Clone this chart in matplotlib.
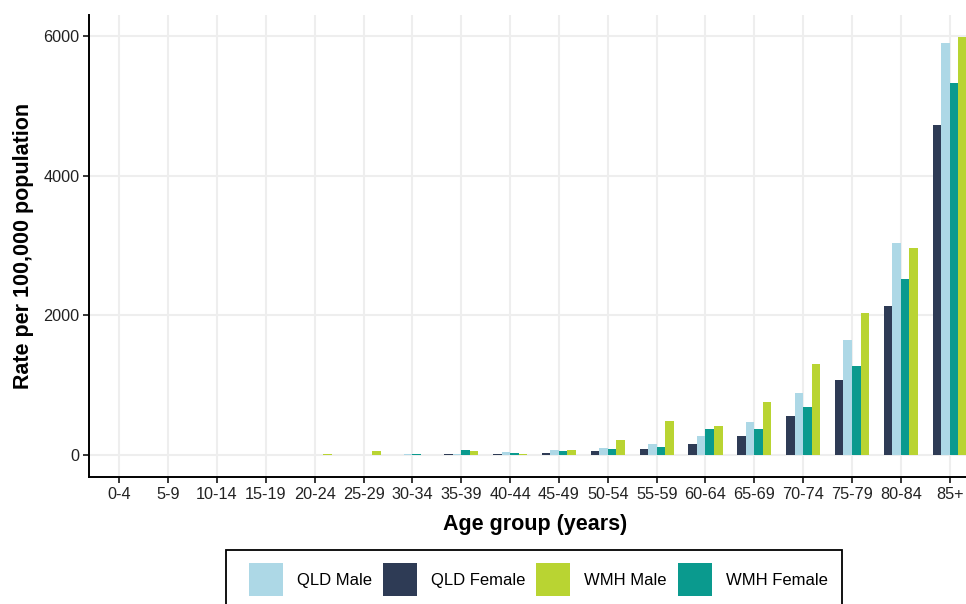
import numpy as np
import matplotlib
matplotlib.use("Agg")
import matplotlib.pyplot as plt
from matplotlib.patches import Rectangle

plt.rcParams['font.family'] = ['Liberation Sans', 'DejaVu Sans']

# Rate per 100,000 population by age group
age_groups = ["0-4", "5-9", "10-14", "15-19", "20-24", "25-29", "30-34", "35-39",
              "40-44", "45-49", "50-54", "55-59", "60-64", "65-69", "70-74",
              "75-79", "80-84", "85+"]
qld_male = [0, 0, 0, 0, 0, 5, 14, 19, 43, 81, 110, 167, 281, 482, 892, 1642, 3031, 5900]
qld_female = [0, 0, 0, 0, 0, 0, 5, 19, 14, 38, 62, 86, 167, 272, 563, 1074, 2129, 4726]
wmh_male = [0, 0, 0, 0, 20, 62, 10, 57, 19, 81, 224, 496, 420, 759, 1302, 2038, 2964, 5976]
wmh_female = [8, 0, 0, 0, 0, 0, 19, 76, 29, 62, 95, 124, 382, 377, 692, 1279, 2520, 5323]

series_labels = ["QLD Male", "QLD Female", "WMH Male", "WMH Female"]
colours = {"QLD Male": "#ADD8E6", "QLD Female": "#2E3B55",
           "WMH Male": "#B9D432", "WMH Female": "#0A9A8E"}

W, H = 966, 604
fig = plt.figure(figsize=(W / 100, H / 100), dpi=100)
# panel runs a little past the right edge of the picture (cropped like the original)
ax = fig.add_axes([89.3 / W, 127 / H, (980 - 89.3) / W, 462 / H])

x = np.arange(len(age_groups))
bw = 0.175
# bars sit in the group as QLD Female, QLD Male, WMH Female, WMH Male
order = [("QLD Female", qld_female), ("QLD Male", qld_male),
         ("WMH Female", wmh_female), ("WMH Male", wmh_male)]
handles = {}
for i, (name, vals) in enumerate(order):
    b = ax.bar(x + (i - 1.5) * bw, vals, width=bw, color=colours[name],
               linewidth=0, zorder=3, label=name)
    handles[name] = b

ax.set_xlim(-0.615, 17.62)
ax.set_ylim(-310, 6296)
ax.set_xticks(x)
ax.set_xticklabels(age_groups)
ax.set_yticks([0, 2000, 4000, 6000])

ax.grid(True, color="#EEEEEE", linewidth=1.5, zorder=0)
for s in ["top", "right"]:
    ax.spines[s].set_visible(False)
for s in ["left", "bottom"]:
    ax.spines[s].set_linewidth(1.4)
    ax.spines[s].set_color("black")
ax.tick_params(axis="both", length=4, width=1.1, color="black",
               labelsize=11.7, labelcolor="#222222", pad=3)

ax.set_xlabel("Age group (years)", fontsize=15.5, fontweight="bold", color="black")
ax.set_ylabel("Rate per 100,000 population", fontsize=15.5, fontweight="bold", color="black")
ax.xaxis.set_label_coords(0.5, -(514 - 477) / 462)
ax.yaxis.set_label_coords(-(89.3 - 34) / (980 - 89.3), 0.5)

# legend box (bottom is cut off by the picture edge)
fig.patches.append(Rectangle((225.7 / W, -10 / H), (842 - 225.7) / W, (604 - 550 + 10) / H,
                             transform=fig.transFigure, fill=False,
                             edgecolor="black", linewidth=1.3))
fig.legend([handles[n] for n in series_labels], series_labels,
           loc="upper left", bbox_to_anchor=(249 / W, 1 - 563 / H),
           ncol=4, frameon=False, fontsize=12, borderpad=0, borderaxespad=0,
           handlelength=2.04, handleheight=2.67, handletextpad=0.84,
           columnspacing=0.66)

fig.savefig("out.png", dpi=100)
